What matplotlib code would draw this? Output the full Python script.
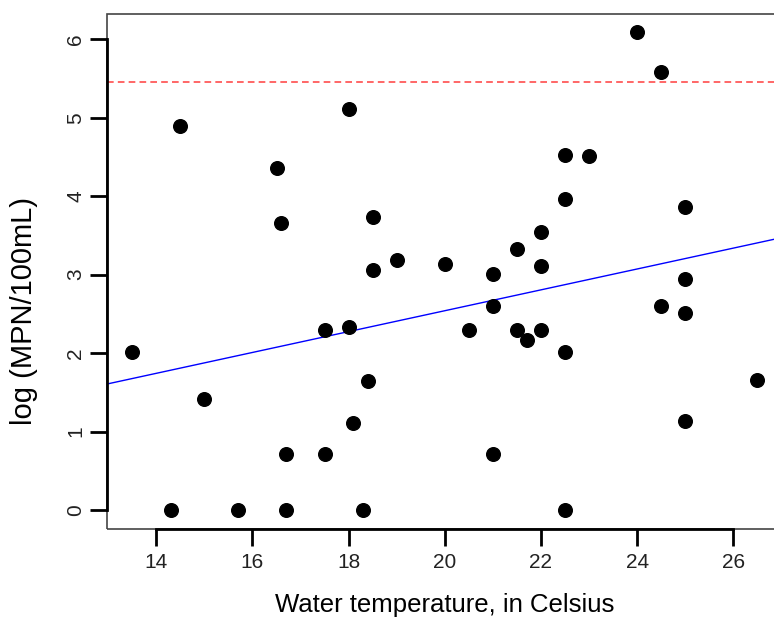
import numpy as np
import matplotlib
matplotlib.use("Agg")
import matplotlib.pyplot as plt
from matplotlib.patches import Rectangle

plt.rcParams["font.family"] = ["Liberation Sans", "DejaVu Sans"]

# Water temperature (Celsius) and log(MPN/100mL)
temperature = [13.5, 14.3, 14.5, 15.0, 15.7, 16.5, 16.6, 16.7, 16.7, 17.5,
               17.5, 18.0, 18.0, 18.1, 18.3, 18.4, 18.5, 18.5, 19.0, 20.0,
               20.5, 21.0, 21.0, 21.0, 21.5, 21.5, 21.7, 22.0, 22.0, 22.0,
               22.5, 22.5, 22.5, 22.5, 23.0, 24.0, 24.5, 24.5, 25.0, 25.0,
               25.0, 25.0, 26.5]
log_mpn = [2.02, 0.0, 4.90, 1.41, 0.0, 4.36, 3.66, 0.71, 0.0, 2.29,
           0.71, 5.11, 2.33, 1.11, 0.0, 1.65, 3.73, 3.06, 3.19, 3.13,
           2.29, 3.01, 2.60, 0.71, 3.33, 2.29, 2.17, 3.55, 3.11, 2.29,
           4.53, 3.96, 2.02, 0.0, 4.51, 6.10, 5.58, 2.60, 3.86, 2.94,
           2.51, 1.14, 1.66]

# regression line (intercept, slope) and the standard line log(235)
intercept = -0.12
slope = 0.133
standard = np.log(235)

x_ticks = [14, 16, 18, 20, 22, 24, 26]
y_ticks = [0, 1, 2, 3, 4, 5, 6]

fig = plt.figure(figsize=(7.74, 6.18), dpi=100)
ax = fig.add_axes([107.3 / 774, 89 / 618, 675 / 774, 515.3 / 618])

ax.plot(temperature, log_mpn, "o", color="black", markersize=9.8, zorder=3)

xs = np.array([12.0, 28.0])
ax.plot(xs, intercept + slope * xs, color="blue", linewidth=1)
ax.axhline(standard, color="#ff4d4d", linestyle=(0, (4, 2.5)), linewidth=1.2)

ax.set_xlim(12.98, 27.02)
ax.set_ylim(-0.243, 6.327)

ax.set_xticks(x_ticks)
ax.set_yticks(y_ticks)
ax.tick_params(length=12, width=2, labelsize=15, colors="black", labelcolor="#222222")
ax.tick_params(axis="x", pad=5)
ax.tick_params(axis="y", labelrotation=90, pad=4)
for lab in ax.get_yticklabels():
    lab.set_va("center")

# R-style axes: thick lines between first and last tick, thin box around
for side in ["top", "right"]:
    ax.spines[side].set_visible(False)
ax.spines["left"].set_bounds(0, 6)
ax.spines["bottom"].set_bounds(14, 26)
ax.spines["left"].set_linewidth(2)
ax.spines["bottom"].set_linewidth(2)
ax.add_patch(Rectangle((0, 0), 1, 1, transform=ax.transAxes, fill=False,
                       edgecolor="#444444", linewidth=1.2, clip_on=False))

ax.set_xlabel("Water temperature, in Celsius", fontsize=18.5)
ax.set_ylabel("log (MPN/100mL)", fontsize=21)
ax.xaxis.set_label_coords(0.5, -0.124)
ax.yaxis.set_label_coords(-0.103, 0.423)

fig.savefig("out.png", dpi=100)
